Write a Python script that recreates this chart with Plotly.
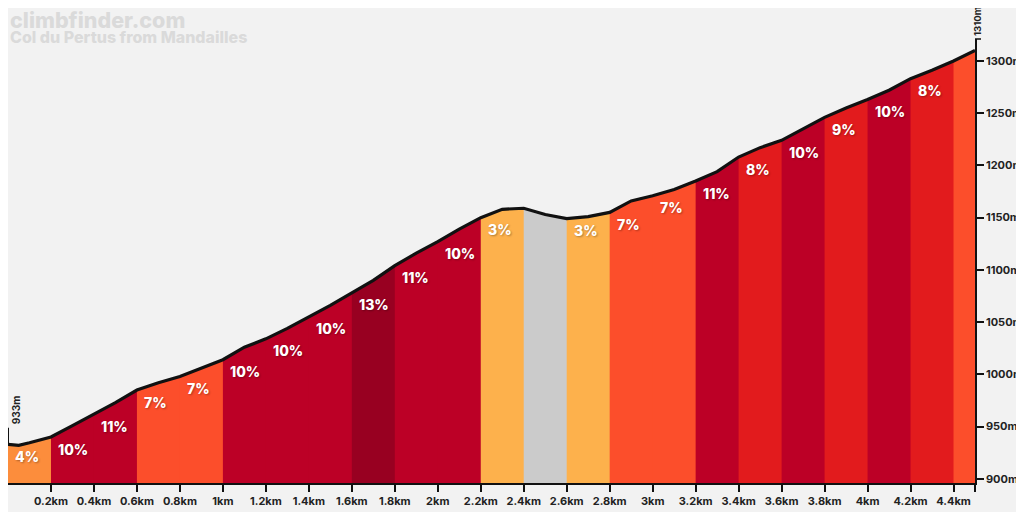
import plotly.graph_objects as go

# elevation profile (km, m)
dist = [0, 0.05, 0.1, 0.2, 0.3, 0.4, 0.5, 0.6, 0.7, 0.8, 0.9, 1.0, 1.1, 1.2, 1.3, 1.4, 1.5,
        1.6, 1.7, 1.8, 1.9, 2.0, 2.1, 2.2, 2.3, 2.4, 2.5, 2.6, 2.7, 2.8, 2.9, 3.0, 3.1,
        3.2, 3.3, 3.4, 3.5, 3.6, 3.7, 3.8, 3.9, 4.0, 4.1, 4.2, 4.3, 4.4, 4.5]
elev = [933, 932, 934.5, 940, 951, 962, 973, 985, 992, 998, 1006, 1014, 1026, 1034, 1044,
        1055, 1066, 1078, 1090, 1104, 1116, 1127, 1139, 1150, 1158, 1159, 1153, 1149, 1151,
        1155, 1166, 1171, 1177, 1185, 1194, 1208, 1217, 1224, 1235, 1246, 1255, 1263, 1272,
        1283, 1291, 1300, 1310]

# gradient per segment (negative = descent, grey)
seg_start = [0, 0.2, 0.4, 0.6, 0.8, 1.0, 1.2, 1.4, 1.6, 1.8, 2.0, 2.2, 2.4, 2.6, 2.8, 3.0,
             3.2, 3.4, 3.6, 3.8, 4.0, 4.2, 4.4]
seg_end = seg_start[1:] + [4.5]
grades = [4, 10, 11, 7, 7, 10, 10, 10, 13, 11, 10, 3, -1, 3, 7, 7, 11, 8, 10, 9, 10, 8, 6]

x_ticks = [0.2, 0.4, 0.6, 0.8, 1, 1.2, 1.4, 1.6, 1.8, 2, 2.2, 2.4, 2.6, 2.8, 3, 3.2, 3.4,
           3.6, 3.8, 4, 4.2, 4.4]
y_ticks = [900, 950, 1000, 1050, 1100, 1150, 1200, 1250, 1300]

start_elev = elev[0]
end_elev = elev[-1]

FONT = "Inter"


def grade_color(g):
    if g < 0:
        return "#CBCBCB"
    if g <= 3:
        return "#FDB14C"
    if g <= 5:
        return "#FC8D3C"
    if g <= 7:
        return "#FC4E2B"
    if g <= 9:
        return "#E21B1D"
    if g <= 12:
        return "#BC0026"
    return "#980021"


fig = go.Figure()

# coloured fill for every segment (a hair of overlap under the next one hides seams)
for s, e, g in zip(seg_start, seg_end, grades):
    xs = [d for d in dist if s - 1e-9 <= d <= e + 1e-9]
    ys = [elev[dist.index(d)] for d in xs]
    if e < dist[-1]:
        xs = xs + [e + 0.004]
        ys = ys + [ys[-1]]
    fig.add_trace(go.Scatter(x=xs, y=ys, fill="tozeroy", mode="lines",
                             line=dict(width=0), fillcolor=grade_color(g),
                             hoverinfo="skip", showlegend=False))

# profile line
fig.add_trace(go.Scatter(x=dist, y=elev, mode="lines",
                         line=dict(color="#111111", width=3.2),
                         hoverinfo="skip", showlegend=False))

# gradient labels
for s, e, g in zip(seg_start, seg_end, grades):
    if g < 0 or e - s < 0.15:
        continue
    fig.add_annotation(x=s, y=elev[dist.index(s)], text=f"{g}%", showarrow=False,
                       xanchor="left", yanchor="middle", xshift=5, yshift=-12,
                       font=dict(family=FONT, size=14, color="white", weight=800,
                                 shadow="1px 1px 2px rgba(0,0,0,0.3)"))

# start / end height markers
fig.add_shape(type="line", x0=0, x1=0, y0=start_elev, y1=start_elev + 16,
              line=dict(color="#111111", width=2))
fig.add_annotation(x=0, y=start_elev + 16, text=f"{start_elev}m", showarrow=False,
                   textangle=-90, xanchor="left", yanchor="bottom", xshift=0, yshift=1,
                   font=dict(family=FONT, size=10, color="#222222", weight=700))
fig.add_shape(type="line", xref="paper", yref="paper", xsizemode="pixel", xanchor=1,
              x0=0, x1=6, y0=1, y1=1, line=dict(color="#111111", width=1.5))
fig.add_annotation(x=1, xref="paper", y=1, yref="paper", text=f"{end_elev}m",
                   showarrow=False, textangle=-90, xanchor="center", yanchor="bottom",
                   xshift=2, yshift=1,
                   font=dict(family=FONT, size=9.5, color="#222222", weight=700))

# watermark titles
fig.add_annotation(x=0, xref="paper", y=1, yref="paper", text="climbfinder.com",
                   showarrow=False, xanchor="left", yanchor="middle", yshift=19.5,
                   font=dict(family=FONT, size=21.5, color="#DADADA", weight=800))
fig.add_annotation(x=0, xref="paper", y=1, yref="paper",
                   text="Col du Pertus from Mandailles", showarrow=False,
                   xanchor="left", yanchor="middle", yshift=2,
                   font=dict(family=FONT, size=16, color="#DADADA", weight=800))

# the page body offsets the figure by 8px, margins are set for that
fig.update_layout(
    width=1024, height=508,
    margin=dict(l=0, r=56.5, t=31, b=33),
    paper_bgcolor="#F2F2F2", plot_bgcolor="#F2F2F2",
    showlegend=False,
    xaxis=dict(range=[0, 4.5], showgrid=False, zeroline=False,
               showline=True, linecolor="#111111", linewidth=1.5,
               ticks="outside", ticklen=7, tickwidth=1.5, tickcolor="#111111",
               tickvals=x_ticks + [4.5],
               ticktext=[f"{t:g}km" for t in x_ticks] + [""],
               tickfont=dict(family=FONT, size=11, color="#222222", weight=700)),
    yaxis=dict(range=[896, 1321], side="right", showgrid=False, zeroline=False,
               showline=True, linecolor="#111111", linewidth=1.5,
               ticks="outside", ticklen=7, tickwidth=1.5, tickcolor="#111111",
               tickvals=y_ticks, ticktext=[f"{t}m" for t in y_ticks],
               tickfont=dict(family=FONT, size=11, color="#222222", weight=700)),
)

fig.write_html("out.html")
